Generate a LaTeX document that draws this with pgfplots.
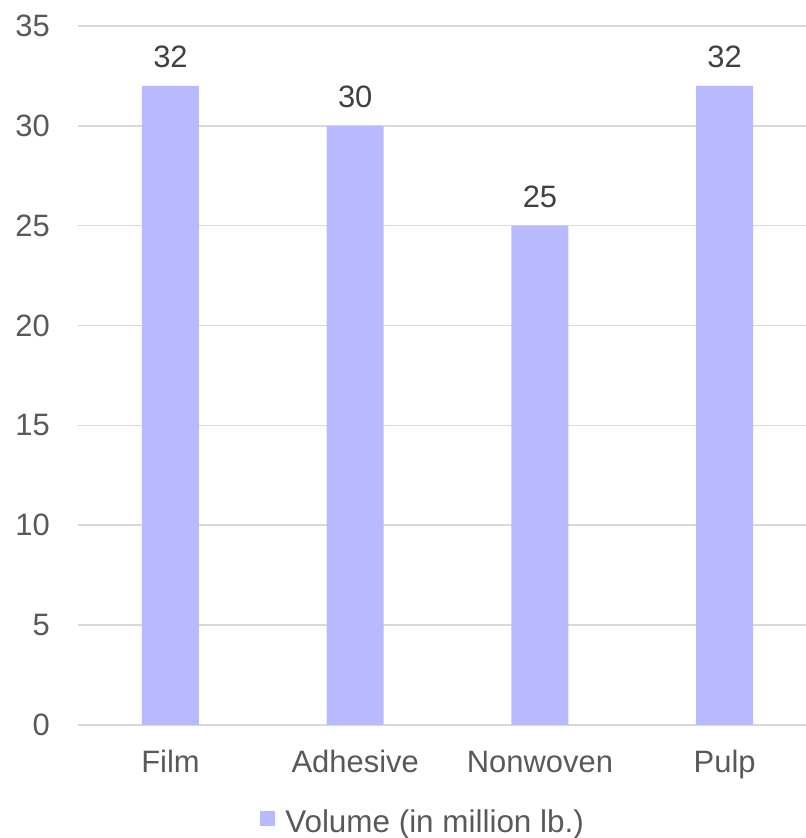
\documentclass[border=0pt]{standalone}
\usepackage{pgfplots}
\pgfplotsset{compat=1.18}
\usepackage{fontspec}
\setmainfont{Liberation Sans}
\definecolor{barc}{HTML}{B9B9FF}
\definecolor{gridc}{HTML}{D9D9D9}
\definecolor{tickc}{HTML}{595959}
\definecolor{labc}{HTML}{404040}
\begin{document}
\begin{tikzpicture}[x=1bp,y=1bp]
\useasboundingbox (-78,-113) rectangle (727,724);
\begin{axis}[
  at={(0,0)}, anchor=south west,
  scale only axis, width=727bp, height=698bp,
  xmin=-0.5, xmax=3.44, ymin=0, ymax=35,
  enlargelimits=false,
  ytick={0,5,...,35},
  xtick={0,1,2,3},
  xticklabels={Film,Adhesive,Nonwoven,Pulp},
  ymajorgrids,
  grid style={gridc, line width=1.5bp},
  axis line style={draw=none},
  tick style={draw=none},
  major tick length=0pt,
  /pgf/number format/assume math mode=true,
  tick label style={font=\fontsize{31}{37}\selectfont, text=tickc, inner sep=0pt},
  yticklabel style={anchor=east, xshift=-28bp},
  xticklabel style={anchor=base, yshift=-48bp},
  ybar, bar width=57bp,
  nodes near coords,
  nodes near coords style={font=\fontsize{31}{37}\selectfont, text=labc, anchor=base, yshift=18bp, inner sep=0pt},
  legend style={at={(0.474,-0.139)}, anchor=center, draw=none, fill=none,
    font=\fontsize{31.5}{37}\selectfont, text=tickc, inner sep=0pt,
    /tikz/every odd column/.append style={column sep=8bp}},
  legend cell align=left,
  legend image code/.code={\fill[barc] (0bp,-4bp) rectangle (15bp,11bp);},
]
\addplot[fill=barc, draw=none] coordinates {(0,32) (1,30) (2,25) (3,32)};
\addlegendentry{Volume (in million lb.)}
\end{axis}
\end{tikzpicture}
\end{document}
